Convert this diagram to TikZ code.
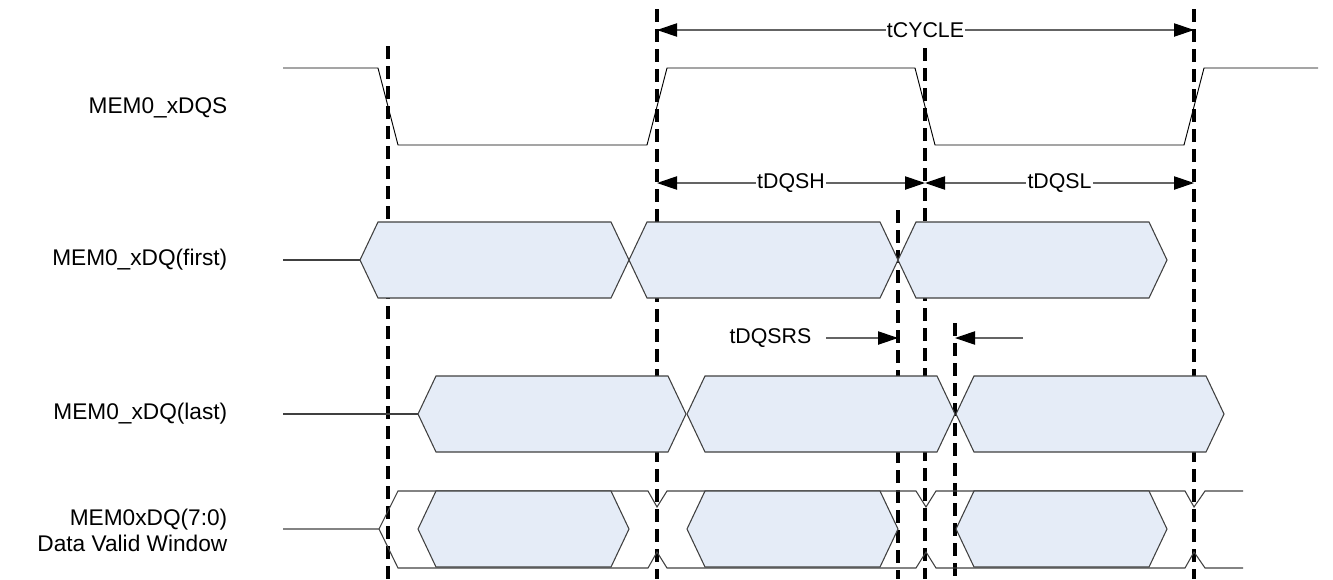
\documentclass[tikz,border=0pt]{standalone}
\usepackage{fontspec}
\setmainfont{Liberation Sans}
\usepackage{tikz}
\usetikzlibrary{arrows.meta}
\definecolor{validblue}{RGB}{229, 236, 247}
\definecolor{edgegray}{RGB}{64, 64, 64}
\definecolor{dimgray}{RGB}{100, 100, 100}

% one data eye: left point, right point, middle level
\newcommand{\dataeye}[3]{%
    \filldraw[eye] (#1,#3) -- (#1+18,#3-38) -- (#2-18,#3-38) -- (#2,#3) -- (#2-18,#3+38) -- (#1+18,#3+38) -- cycle;}

\begin{document}
\begin{tikzpicture}[x=0.75pt, y=-0.75pt,
    wave/.style={black, line width=0.7pt},
    edge/.style={edgegray, line width=0.8pt},
    eye/.style={draw=edgegray, line width=0.8pt, fill=validblue},
    marker/.style={black, line width=2.8pt, dash pattern=on 10pt off 5pt},
    dim/.style={dimgray, line width=0.9pt, {Triangle[length=15pt, width=10pt, color=black]}-{Triangle[length=15pt, width=10pt, color=black]}},
    dimone/.style={dimgray, line width=0.9pt, -{Triangle[length=15pt, width=10pt, color=black]}},
    signame/.style={anchor=east, align=right, font=\fontsize{17}{19.5}\selectfont},
    dimtext/.style={fill=white, text=black, inner sep=1pt, font=\fontsize{16}{19.5}\selectfont}]
    \useasboundingbox (0,0) rectangle (1333,579);

    % Reference edges
    \foreach \name/\x/\ytop in {fa/388/46, ra/657/9, dq/898/210, fb/925/48, dl/955/323, rb/1194/9} {
        \coordinate (\name-top) at (\x,\ytop);
        \coordinate (\name-bot) at (\x,579);
        \draw[marker] (\name-top) -- (\name-bot);
    }

    % Signal names
    \node[signame] (dqs) at (232,108) {MEM0\_xDQS};
    \node[signame] (first) at (232,260) {MEM0\_xDQ(first)};
    \node[signame] (last) at (232,414) {MEM0\_xDQ(last)};
    \node[signame] (window) at (232,530) {MEM0xDQ(7:0)\\Data Valid Window};

    % MEM0_xDQS
    \draw[wave] (283,68) -- (378,68) -- (398,145) -- (647,145) -- (667,68) -- (915,68) -- (935,145) -- (1184,145) -- (1204,68) -- (1318,68);

    % MEM0_xDQ(first) and MEM0_xDQ(last)
    \draw[edge] (283,260) -- (360,260);
    \foreach \x in {360,629,898} \dataeye{\x}{\x+269}{260};
    \draw[edge] (283,414) -- (418,414);
    \foreach \x in {418,687,956} \dataeye{\x}{\x+268}{414};

    % Data valid window
    \draw[edge] (283,529) -- (379,529) -- (398,491) -- (648,491) -- (657,507) -- (667,491) -- (916,491) -- (926,507) -- (936,491) -- (1185,491) -- (1194,507) -- (1205,491) -- (1243,491);
    \draw[edge] (379,529) -- (398,568) -- (648,568) -- (657,552) -- (667,568) -- (916,568) -- (926,552) -- (936,568) -- (1185,568) -- (1194,552) -- (1205,568) -- (1243,568);
    \foreach \a/\b in {418/629, 687/898, 956/1167} \dataeye{\a}{\b}{529};

    % Timing parameters
    \coordinate (cyc) at (0,30);
    \coordinate (half) at (0,183);
    \coordinate (rs) at (0,338);
    \draw[dim] (ra-top |- cyc) -- node[dimtext] {tCYCLE} (rb-top |- cyc);
    \draw[dim] (ra-top |- half) -- node[dimtext] {tDQSH} (fb-top |- half);
    \draw[dim] (fb-top |- half) -- node[dimtext] {tDQSL} (rb-top |- half);
    \node[anchor=east, font=\fontsize{16}{19.5}\selectfont] (rstext) at (816,338) {tDQSRS};
    \coordinate (rs-in) at (826,338);
    \coordinate (rs-out) at (1023,338);
    \draw[dimone] (rs-in) -- (dq-top |- rs);
    \draw[dimone] (rs-out) -- (dl-top |- rs);
\end{tikzpicture}
\end{document}
